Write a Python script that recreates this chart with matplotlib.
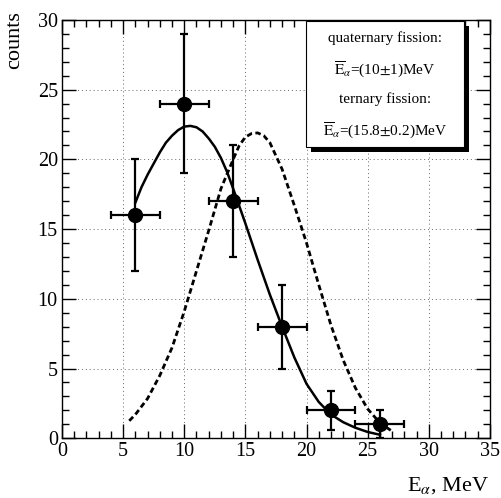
import numpy as np
import matplotlib
matplotlib.use("Agg")
import matplotlib.pyplot as plt
from matplotlib.patches import Rectangle
from matplotlib.ticker import MultipleLocator

plt.rcParams.update({
    "font.family": ["Liberation Serif", "DejaVu Serif"],
    "mathtext.fontset": "stix",
})

# measured alpha spectrum
e_alpha = [6, 10, 14, 18, 22, 26]
counts = [16, 24, 17, 8, 2, 1]
e_err = [2, 2, 2, 2, 2, 2]
counts_err = [4, 5, 4, 3, 1.4, 1]

# quaternary fission fit (solid)
quat_x = [6, 6.5, 7, 7.5, 8, 8.5, 9, 9.5, 10, 10.5, 11, 11.5, 12, 12.5, 13, 13.5, 14,
          15, 16, 17, 18, 19, 20, 21, 22, 23, 24, 25, 26]
quat_y = [16.9, 18.0, 18.9, 19.7, 20.5, 21.2, 21.7, 22.1, 22.35, 22.4, 22.3, 22.0, 21.5,
          20.9, 20.1, 19.1, 17.9, 15.4, 12.8, 10.3, 8.0, 5.8, 3.9, 2.6, 1.7, 1.15, 0.75,
          0.45, 0.25]

# ternary fission reference (dashed)
tern_x = [5.5, 6, 7, 8, 9, 10, 11, 12, 13, 14, 14.5, 15, 15.5, 16, 16.5, 17, 18, 19,
          20, 21, 22, 23, 24, 25, 26, 27]
tern_y = [1.25, 1.7, 2.85, 4.5, 6.5, 9.1, 12.0, 14.9, 17.9, 20.0, 21.0, 21.6, 21.85,
          21.9, 21.7, 21.2, 19.3, 16.7, 14.0, 11.0, 8.1, 5.6, 3.6, 2.1, 1.1, 0.5]

legend_lines = [
    "quaternary fission:",
    r"$\overline{\mathrm{E}}_{\alpha}$=(10$\pm$1)MeV",
    "ternary fission:",
    r"$\overline{\mathrm{E}}_{\alpha}$=(15.8$\pm$0.2)MeV",
]

fig = plt.figure(figsize=(5.02, 4.98), dpi=100)
ax = fig.add_axes([0.1235, 0.12, 0.8525, 0.84])

ax.set_xlim(0, 35)
ax.set_ylim(0, 30)
ax.xaxis.set_major_locator(MultipleLocator(5))
ax.xaxis.set_minor_locator(MultipleLocator(1))
ax.yaxis.set_major_locator(MultipleLocator(5))
ax.yaxis.set_minor_locator(MultipleLocator(1))
ax.tick_params(which="both", direction="in", top=True, right=True,
               labelsize=14.5, pad=3, width=1.0)
ax.tick_params(which="major", length=10)
ax.tick_params(which="minor", length=5)
for sp in ax.spines.values():
    sp.set_linewidth(1.0)

ax.grid(which="major", linestyle=(0, (1, 3)), color="#666666", linewidth=0.7)
ax.set_axisbelow(True)

ax.plot(tern_x, tern_y, color="black", lw=2.0, linestyle=(0, (2, 1.2)))
ax.plot(quat_x, quat_y, color="black", lw=1.8)

ax.errorbar(e_alpha, counts, xerr=e_err, yerr=counts_err, fmt="o",
            color="black", ms=10, elinewidth=1.6, capsize=3, capthick=1.6)

# boxed annotation with a drop shadow
bx0, by0, bw, bh = 0.570, 0.697, 0.369, 0.301
ax.add_patch(Rectangle((bx0 + 0.011, by0 - 0.013), bw, bh, transform=ax.transAxes,
                       facecolor="black", edgecolor="none", zorder=5, clip_on=False))
ax.add_patch(Rectangle((bx0, by0), bw, bh, transform=ax.transAxes,
                       facecolor="white", edgecolor="black", lw=0.8, zorder=6, clip_on=False))
for txt, yy in zip(legend_lines, [0.957, 0.880, 0.811, 0.734]):
    ax.text(bx0 + bw / 2, yy, txt, transform=ax.transAxes, ha="center", va="center",
            fontsize=11, zorder=7)

fig.text(0.03, 0.92, "counts", rotation=90, ha="center", va="center", fontsize=16)
fig.text(0.975, 0.025, r"E$_{\alpha}$, MeV", ha="right", va="center", fontsize=16)

fig.savefig("out.png", dpi=100)
